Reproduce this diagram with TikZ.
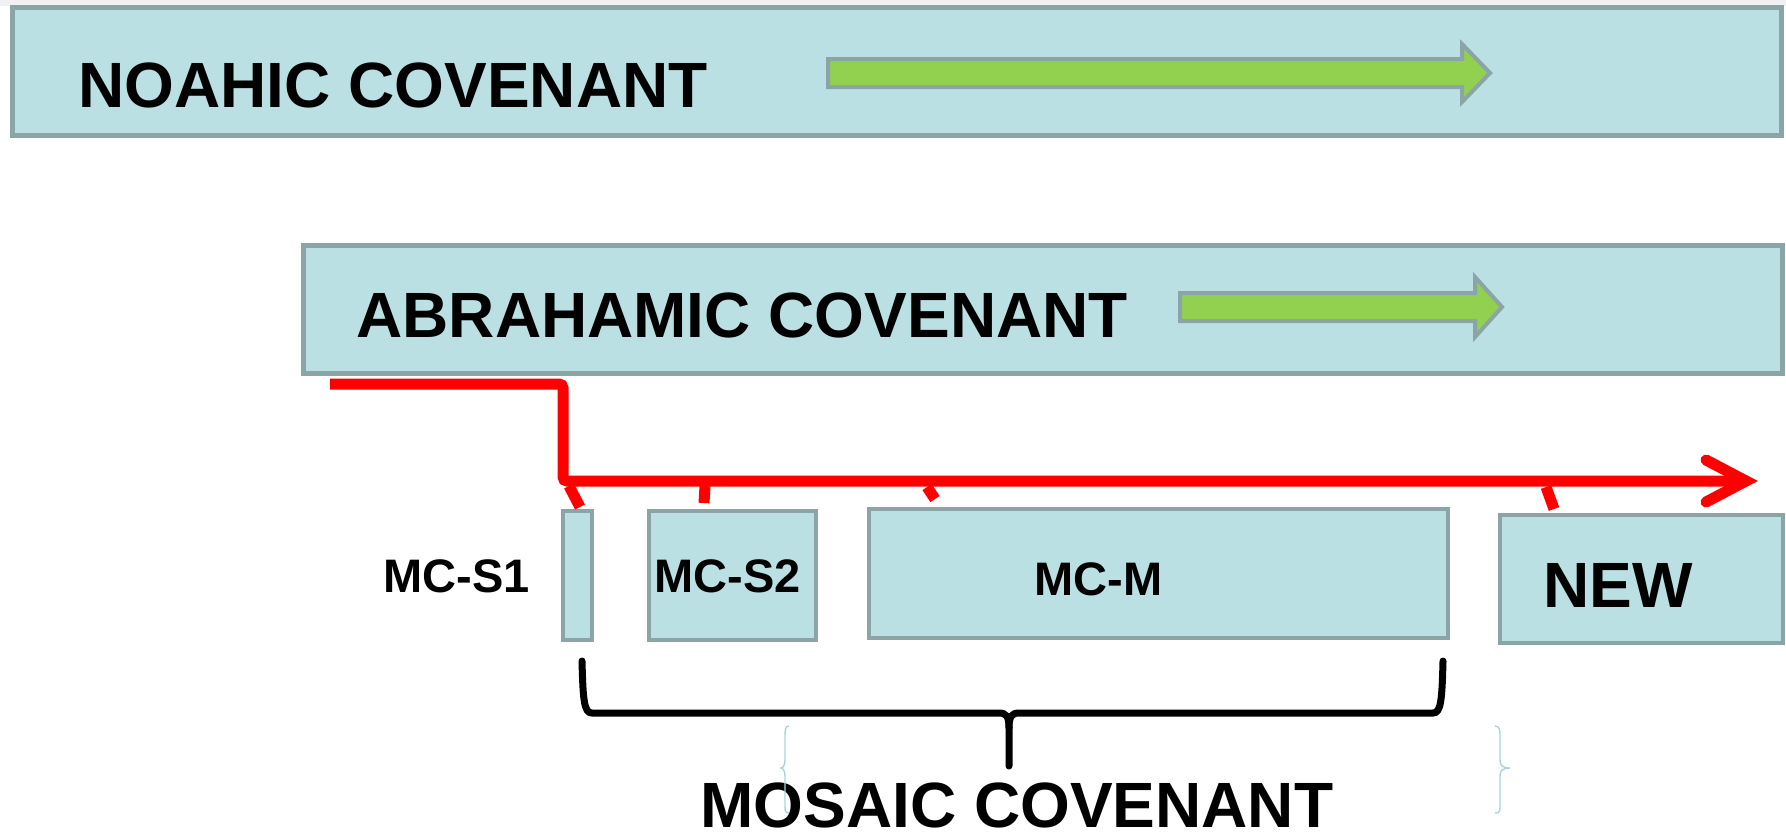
\documentclass[tikz,border=0pt]{standalone}
\usepackage{fontspec}
\setmainfont{Liberation Sans}
\definecolor{boxfill}{HTML}{BAE0E3}
\definecolor{boxline}{HTML}{8BA5A7}
\definecolor{arrgreen}{HTML}{92D050}
\definecolor{faintblue}{HTML}{A8D5DA}
\definecolor{topgray}{HTML}{F0F1F3}
\begin{document}
\begin{tikzpicture}[x=0.5pt,y=-0.5pt,
  box/.style={draw=boxline, fill=boxfill, line width=2.5pt, inner sep=0pt, outer sep=0pt},
  sbox/.style={box, line width=2pt},
  bigtext/.style={font=\bfseries\fontsize{32}{36}\selectfont, inner sep=0pt, anchor=base west},
  smalltext/.style={font=\bfseries\fontsize{23.5}{26}\selectfont, inner sep=0pt, anchor=base west},
  garrow/.style={draw=boxline, fill=arrgreen, line width=2pt},
  redline/.style={draw=red, line width=5.5pt},
  bracestyle/.style={draw=black, line width=3.5pt, line cap=round},
  faintbrace/.style={draw=faintblue, line width=0.7pt},
  ]
\useasboundingbox (0,0) rectangle (1786,836);
\fill[white] (0,0) rectangle (1786,836);
\fill[topgray] (0,0) rectangle (1786,6);

% boxes
\node[box, minimum width=884.5pt, minimum height=64pt] (noah) at (897,71.5) {};
\node[box, minimum width=739.5pt, minimum height=64pt] (abr) at (1043,309.5) {};
\node[sbox, minimum width=14.5pt, minimum height=64.5pt] (s1) at (577.5,575.5) {};
\node[sbox, minimum width=83.5pt, minimum height=64.5pt] (s2) at (732.5,575.5) {};
\node[sbox, minimum width=289.5pt, minimum height=64.5pt] (mcm) at (1158.5,573.5) {};
\node[sbox, minimum width=141.5pt, minimum height=64pt] (new) at (1641.5,579) {};

% green arrows
\draw[garrow] (828,59) -- (1462,59) -- (1462,44) -- (1490,73) -- (1462,102) -- (1462,87) -- (828,87) -- cycle;
\draw[garrow] (1180,293) -- (1475,293) -- (1475,277) -- (1502,307) -- (1475,337) -- (1475,321) -- (1180,321) -- cycle;

% texts
\node[bigtext] (noahT) at (78,107) {NOAHIC COVENANT};
\node[bigtext] (abrT) at (356,337) {ABRAHAMIC COVENANT};
\node[smalltext] (s1T) at (383,592) {MC-S1};
\node[smalltext] (s2T) at (654,592) {MC-S2};
\node[smalltext] (mT) at (1034,595) {MC-M};
\node[bigtext] (newT) at (1543,607) {NEW};
\node[bigtext] (mosT) at (700,827) {MOSAIC COVENANT};

% red timeline
\coordinate (r0) at (330,384);
\coordinate (r1) at (563,384);
\coordinate (r2) at (563,481);
\coordinate (r3) at (1744,481);
\coordinate (tip) at (1746,481);
\coordinate (armA) at (1706,460);
\coordinate (armB) at (1706,502);
\draw[redline, rounded corners=2pt] (r0) -- (r1) -- (r2) -- (r3);
\draw[redline, line cap=round] (armA) -- (tip) -- (armB);

% ticks
\coordinate (t1a) at (569,486); \coordinate (t1b) at (580,507);
\coordinate (t2a) at (705,486); \coordinate (t2b) at (704,503);
\coordinate (t3a) at (927,487); \coordinate (t3b) at (935,499);
\coordinate (t4a) at (1546,487); \coordinate (t4b) at (1554,509);
\draw[redline] (t1a) -- (t1b);
\draw[redline] (t2a) -- (t2b);
\draw[redline] (t3a) -- (t3b);
\draw[redline] (t4a) -- (t4b);

% black brace
\coordinate (bl) at (582,661);
\coordinate (br) at (1443,661);
\coordinate (bm) at (1009,766);
\draw[bracestyle] (bl) .. controls (583,700) and (584,713) .. (592,713) -- (999,713) .. controls (1006,713) and (1009,716) .. (1009,728) -- (bm);
\draw[bracestyle] (br) .. controls (1442,700) and (1441,713) .. (1433,713) -- (1019,713) .. controls (1012,713) and (1009,716) .. (1009,728);

% faint braces
\draw[faintbrace] (789,726) .. controls (785,726) and (785,730) .. (785,738) -- (785,760) .. controls (785,765) and (783,768) .. (781,768) .. controls (783,768) and (785,771) .. (785,776) -- (785,805) .. controls (785,811) and (785,813) .. (789,813);
\draw[faintbrace] (1495,726) .. controls (1500,726) and (1500,730) .. (1500,738) -- (1500,760) .. controls (1500,765) and (1502,768) .. (1510,768) .. controls (1502,768) and (1500,771) .. (1500,776) -- (1500,805) .. controls (1500,811) and (1500,813) .. (1495,813);
\end{tikzpicture}
\end{document}
